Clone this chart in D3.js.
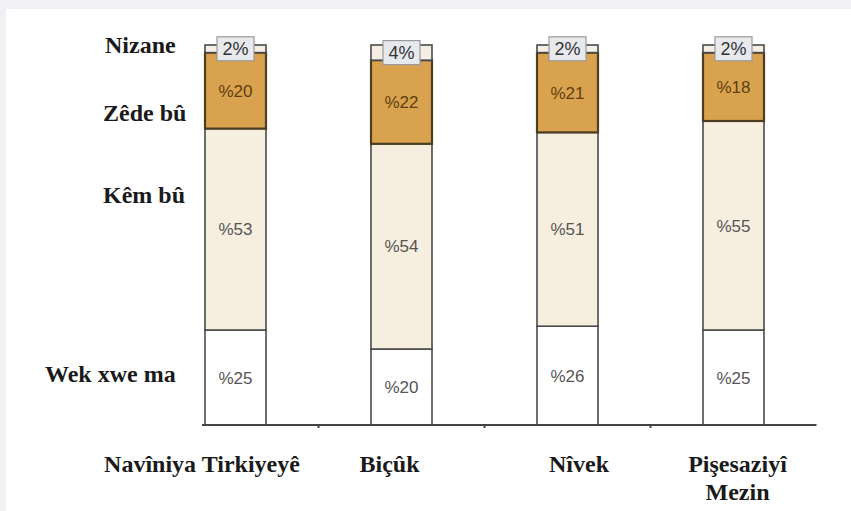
<!DOCTYPE html>
<html>
<head>
<meta charset="utf-8">
<script src="https://cdn.jsdelivr.net/npm/d3@7"></script>
<style>
  html, body { margin: 0; padding: 0; background: #f1f0f4; }
  svg { display: block; }
</style>
</head>
<body>
<svg id="chart" width="851" height="511"></svg>
<script>
// ---- data ----
const categories = ["Navîniya Tirkiyeyê", "Biçûk", "Nîvek", "Pişesaziyî\nMezin"];
const seriesNames = ["Wek xwe ma", "Kêm bû", "Zêde bû", "Nizane"];
const wekXweMa = [25, 20, 26, 25];
const kemBu    = [53, 54, 51, 55];
const zedeBu   = [20, 22, 21, 18];
const nizane   = [2, 4, 2, 2];
const yDomain  = [0, 100];

// ---- layout / style (not data) ----
const W = 851, H = 511;
const fills   = ["#ffffff", "#f6eedf", "#d9a24f", "#f4eee4"];
const txtCol  = ["#555555", "#555555", "#5e3f10", "#333333"];
const legendX = [45, 103, 103, 105];
const legendY = [382, 203, 121, 53];
const catDx   = [-33.5, -12, 11.5, 4];

const svg = d3.select("#chart");
svg.append("rect").attr("x", 6).attr("y", 9).attr("width", W - 6).attr("height", H - 9).attr("fill", "#ffffff");

const rows = categories.map((c, i) => ({
  cat: c,
  "Wek xwe ma": wekXweMa[i],
  "Kêm bû": kemBu[i],
  "Zêde bû": zedeBu[i],
  "Nizane": nizane[i]
}));
const stacked = d3.stack().keys(seriesNames)(rows);

const x = d3.scaleBand().domain(categories).range([152.5, 816.5]).padding(0);
const y = d3.scaleLinear().domain(yDomain).range([425, 45]);
const barW = 61;
const bx = c => x(c) + x.bandwidth() / 2 - barW / 2;

// segments
stacked.forEach((layer, si) => {
  svg.append("g").selectAll("rect").data(layer).join("rect")
    .attr("x", d => bx(d.data.cat))
    .attr("y", d => y(d[1]))
    .attr("width", barW)
    .attr("height", d => y(d[0]) - y(d[1]))
    .attr("fill", fills[si])
    .attr("stroke", si === 2 ? "#4d3d22" : "#4a4a4a")
    .attr("stroke-width", si === 2 ? 2.2 : 1.6);
});

// percentage labels
stacked.forEach((layer, si) => {
  const g = svg.append("g");
  layer.forEach(d => {
    const cx = x(d.data.cat) + x.bandwidth() / 2;
    const cy = (y(d[0]) + y(d[1])) / 2;
    const v = d[1] - d[0];
    if (si === 3) {
      g.append("rect")
        .attr("x", cx - 18.5).attr("y", cy - 12)
        .attr("width", 37).attr("height", 24)
        .attr("fill", "#e7e9ed").attr("stroke", "#9a9a9a").attr("stroke-width", 1.2);
      g.append("text")
        .attr("x", cx).attr("y", cy + 6.5)
        .attr("text-anchor", "middle")
        .attr("font-family", "Liberation Sans, Arial, sans-serif")
        .attr("font-size", 18)
        .attr("fill", txtCol[si])
        .text(v + "%");
    } else {
      g.append("text")
        .attr("x", cx).attr("y", cy + 6)
        .attr("text-anchor", "middle")
        .attr("font-family", "Liberation Sans, Arial, sans-serif")
        .attr("font-size", 17)
        .attr("fill", txtCol[si])
        .text("%" + v);
    }
  });
});

// x axis line with ticks at band boundaries
svg.append("line").attr("x1", 202).attr("x2", x.range()[1]).attr("y1", y(0)).attr("y2", y(0))
  .attr("stroke", "#444").attr("stroke-width", 2);
svg.append("g").selectAll("line").data(categories.slice(1)).join("line")
  .attr("x1", d => x(d)).attr("x2", d => x(d))
  .attr("y1", y(0)).attr("y2", y(0) + 3)
  .attr("stroke", "#444").attr("stroke-width", 2);

// category labels
categories.forEach((c, i) => {
  const cx = x(c) + x.bandwidth() / 2 + catDx[i];
  const t = svg.append("text")
    .attr("text-anchor", "middle")
    .attr("font-family", "Liberation Serif, Times New Roman, serif")
    .attr("font-weight", "bold")
    .attr("font-size", 24)
    .attr("fill", "#1a1a1a");
  c.split("\n").forEach((line, li) => {
    t.append("tspan").attr("x", cx).attr("y", 472 + li * 28).text(line);
  });
});

// series labels (left)
seriesNames.forEach((s, i) => {
  svg.append("text")
    .attr("x", legendX[i]).attr("y", legendY[i])
    .attr("font-family", "Liberation Serif, Times New Roman, serif")
    .attr("font-weight", "bold")
    .attr("font-size", 24)
    .attr("fill", "#1a1a1a")
    .text(s);
});
</script>
</body>
</html>
